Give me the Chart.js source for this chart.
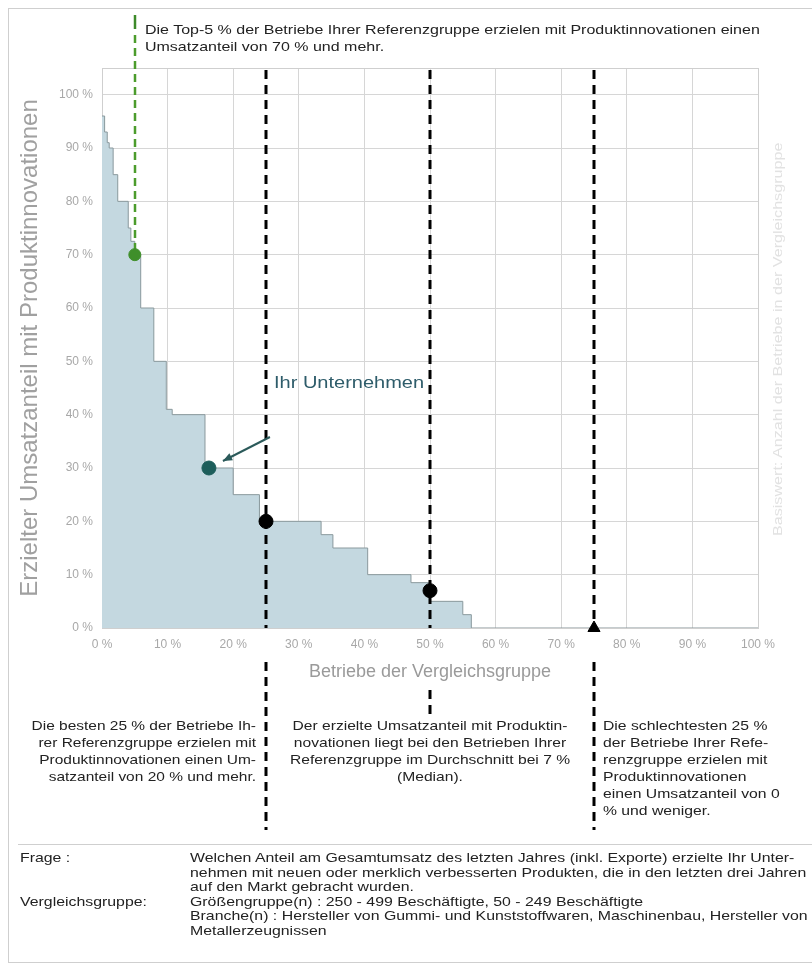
<!DOCTYPE html>
<html lang="de">
<head>
<meta charset="utf-8">
<title>Umsatzanteil mit Produktinnovationen</title>
<script src="https://cdn.jsdelivr.net/npm/chart.js@4.4.1/dist/chart.umd.min.js"></script>
<style>
  body { margin: 0; background: #fff; font-family: "Liberation Sans", Arial, sans-serif; color: #222; }
  #page { position: relative; width: 812px; height: 966px; overflow: hidden; }
  #chartBox { position: absolute; left: 0; top: 0; width: 812px; height: 966px; }
  .frame { position: absolute; left: 8px; top: 8px; width: 820px; height: 953px; border-left: 1px solid #cfcfcf; border-top: 1px solid #cfcfcf; border-bottom: 1px solid #cfcfcf; }
  .note { position: absolute; font-size: 13px; line-height: 17px; color: #222; white-space: nowrap; transform: scaleX(1.21); transform-origin: 0 0; }
  .sep { position: absolute; left: 18px; top: 844px; width: 800px; border-top: 1px solid #cfcfcf; }
  .foot { position: absolute; font-size: 13px; line-height: 14.5px; color: #222; white-space: nowrap; transform: scaleX(1.22); transform-origin: 0 0; }
  .side { position: absolute; left: 770px; top: 536px; transform-origin: 0 0; transform: rotate(-90deg) scaleX(1.24); font-size: 13px; color: #e2e2e2; white-space: nowrap; }
</style>
</head>
<body>
<div id="page">
  <div class="frame"></div>
  <div id="chartBox"><canvas id="innoChart"></canvas></div>

  <div class="note" style="left:145px; top:21px; transform: scaleX(1.23);">Die Top-5 % der Betriebe Ihrer Referenzgruppe erzielen mit Produktinnovationen einen<br>Umsatzanteil von 70 % und mehr.</div>
  <div class="note" style="left:274px; top:373px; font-size:16px; line-height:20px; color:#2e5c6a; transform: scaleX(1.25);">Ihr Unternehmen</div>
  <div class="side">Basiswert: Anzahl der Betriebe in der Vergleichsgruppe</div>

  <div class="note" style="left:56px; top:717px; width:200px; text-align:right; transform-origin: 100% 0; transform: scaleX(1.19);">Die besten 25 % der Betriebe Ih-<br>rer Referenzgruppe erzielen mit<br>Produktinnovationen einen Um-<br>satzanteil von 20 % und mehr.</div>
  <div class="note" style="left:290px; top:717px; width:280px; text-align:center; transform-origin: 50% 0; transform: scaleX(1.2);">Der erzielte Umsatzanteil mit Produktin-<br>novationen liegt bei den Betrieben Ihrer<br>Referenzgruppe im Durchschnitt bei 7 %<br>(Median).</div>
  <div class="note" style="left:603px; top:717px;">Die schlechtesten 25 %<br>der Betriebe Ihrer Refe-<br>renzgruppe erzielen mit<br>Produktinnovationen<br>einen Umsatzanteil von 0<br>% und weniger.</div>

  <div class="sep"></div>
  <div class="foot" style="left:20px; top:851px;">Frage :</div>
  <div class="foot" style="left:190px; top:851px;">Welchen Anteil am Gesamtumsatz des letzten Jahres (inkl. Exporte) erzielte Ihr Unter-<br>nehmen mit neuen oder merklich verbesserten Produkten, die in den letzten drei Jahren<br>auf den Markt gebracht wurden.</div>
  <div class="foot" style="left:20px; top:894.5px;">Vergleichsgruppe:</div>
  <div class="foot" style="left:190px; top:894.5px;">Größengruppe(n) : 250 - 499 Beschäftigte, 50 - 249 Beschäftigte<br>Branche(n) : Hersteller von Gummi- und Kunststoffwaren, Maschinenbau, Hersteller von<br>Metallerzeugnissen</div>
</div>

<script>
// Verteilung: Anteil der Betriebe (x, %) -> erzielter Umsatzanteil (y, %), Stufe beginnt bei x
const shareX = [0, 0.4, 0.8, 1.1, 1.7, 2.4, 4.0, 4.4, 5.0, 5.9, 7.9, 9.8, 10.7, 15.7, 20.0, 24.0, 33.4, 35.2, 40.5, 47.1, 50.0, 55.0, 56.3, 100];
const shareY = [96, 93, 91, 90, 85, 80, 75, 72.5, 70, 60, 50, 41, 40, 30, 25, 20, 17.5, 15, 10, 8.5, 5, 2.5, 0, 0];

// Quartile (beste 25 %, Median, schlechteste 25 %)
const quartileX = [25, 50, 75];
const quartileY = [20, 7, 0];

// Top-5 %
const topX = [5];
const topY = [70];

// Ihr Unternehmen
const companyX = [16.3];
const companyY = [30];

const xTicks = [0, 10, 20, 30, 40, 50, 60, 70, 80, 90, 100];
const yTicks = [0, 10, 20, 30, 40, 50, 60, 70, 80, 90, 100];

function pts(xs, ys) {
  return xs.map((x, i) => ({ x: x, y: ys[i] }));
}

function dashed(ctx, x, y1, y2, color, width, dash) {
  ctx.save();
  ctx.strokeStyle = color;
  ctx.lineWidth = width;
  ctx.setLineDash(dash);
  ctx.beginPath();
  ctx.moveTo(x, y1);
  ctx.lineTo(x, y2);
  ctx.stroke();
  ctx.restore();
}

const guidePlugin = {
  id: 'guides',
  beforeDatasetsDraw(chart) {
    const { ctx, chartArea: a } = chart;
    ctx.save();
    ctx.strokeStyle = '#cfcfcf';
    ctx.lineWidth = 1;
    ctx.strokeRect(a.left + 0.5, a.top + 0.5, a.right - a.left, a.bottom - a.top);
    ctx.restore();
  },
  afterDatasetDraw(chart, args) {
    if (args.index !== 0) return;
    const { ctx, chartArea: a, scales } = chart;
    // Quartilslinien
    quartileX.forEach((q, i) => {
      const px = Math.round(scales.x.getPixelForValue(q));
      dashed(ctx, px, a.top + 2, a.bottom, '#000', 3, [9, 6]);
      if (i === 1) {
        dashed(ctx, px, 690, 720, '#000', 3, [9, 6]);
      } else {
        dashed(ctx, px, 662, 830, '#000', 3, [9, 6]);
      }
    });
    // Top-5 % Linie
    const gx = Math.round(scales.x.getPixelForValue(topX[0]));
    const gy = scales.y.getPixelForValue(topY[0]);
    dashed(ctx, gx, 15, 29, '#3d8a2a', 2.5, []);
    dashed(ctx, gx, 35, gy, '#4c9c2c', 2.5, [8, 5]);
    // Pfeil zu "Ihr Unternehmen"
    const cx = scales.x.getPixelForValue(companyX[0]);
    const cy = scales.y.getPixelForValue(companyY[0]);
    const sx = cx + 61, sy = cy - 31, ex = cx + 14, ey = cy - 7;
    const ang = Math.atan2(ey - sy, ex - sx);
    ctx.save();
    ctx.strokeStyle = '#2b5a5a';
    ctx.fillStyle = '#2b5a5a';
    ctx.lineWidth = 2;
    ctx.beginPath();
    ctx.moveTo(sx, sy);
    ctx.lineTo(ex, ey);
    ctx.stroke();
    ctx.beginPath();
    ctx.moveTo(ex, ey);
    ctx.lineTo(ex - 10 * Math.cos(ang - 0.4), ey - 10 * Math.sin(ang - 0.4));
    ctx.lineTo(ex - 10 * Math.cos(ang + 0.4), ey - 10 * Math.sin(ang + 0.4));
    ctx.closePath();
    ctx.fill();
    ctx.restore();
  }
};

const ctx = document.getElementById('innoChart').getContext('2d');
const innoChart = new Chart(ctx, {
  type: 'scatter',
  data: {
    datasets: [
      {
        type: 'line',
        label: 'Verteilung',
        order: 1,
        data: pts(shareX, shareY),
        stepped: true,
        fill: 'origin',
        backgroundColor: '#c4d8e0',
        borderColor: '#8a999d',
        borderWidth: 1,
        pointRadius: 0
      },
      {
        label: 'Quartile',
        order: 0,
        data: pts(quartileX, quartileY),
        pointStyle: ['circle', 'circle', 'triangle'],
        pointRadius: [7, 7, 7],
        backgroundColor: '#000',
        borderColor: '#000',
        clip: false
      },
      {
        label: 'Top-5 %',
        order: 0,
        data: pts(topX, topY),
        pointRadius: 6,
        backgroundColor: '#3f8f2a',
        borderColor: '#3f8f2a'
      },
      {
        label: 'Ihr Unternehmen',
        order: 0,
        data: pts(companyX, companyY),
        pointRadius: 7,
        backgroundColor: '#1d5e5b',
        borderColor: '#1d5e5b'
      }
    ]
  },
  options: {
    responsive: true,
    maintainAspectRatio: false,
    animation: false,
    layout: { padding: { left: 0, top: 68, right: 54, bottom: 278 } },
    plugins: { legend: { display: false }, tooltip: { enabled: false } },
    scales: {
      x: {
        type: 'linear',
        min: 0,
        max: 100,
        afterFit: s => { s.height = 60; },
        afterBuildTicks: s => { s.ticks = xTicks.map(v => ({ value: v })); },
        ticks: { callback: v => v + ' %', color: '#a8a8a8', font: { size: 12, family: 'Liberation Sans' }, padding: 9 },
        grid: { color: '#d6d6d6', drawTicks: false },
        border: { color: '#cfcfcf' },
        title: { display: true, text: 'Betriebe der Vergleichsgruppe', color: '#9a9a9a', font: { size: 18, family: 'Liberation Sans' }, padding: { top: 0, bottom: 5 } }
      },
      y: {
        min: 0,
        max: 105,
        afterFit: s => { s.width = 102; },
        afterBuildTicks: s => { s.ticks = yTicks.map(v => ({ value: v })); },
        ticks: { callback: v => v + ' %', color: '#a8a8a8', font: { size: 12, family: 'Liberation Sans' }, padding: 9 },
        grid: { color: '#d6d6d6', drawTicks: false },
        border: { color: '#cfcfcf' },
        title: { display: true, text: 'Erzielter Umsatzanteil mit Produktinnovationen', color: '#a0a0a0', font: { size: 24, family: 'Liberation Sans' }, padding: { top: 16, bottom: 0 } }
      }
    }
  },
  plugins: [guidePlugin]
});
</script>
</body>
</html>
